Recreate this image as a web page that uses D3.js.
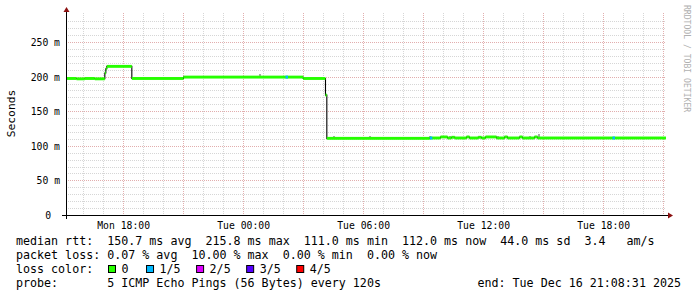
<!DOCTYPE html>
<html><head><meta charset="utf-8">
<script src="https://cdn.jsdelivr.net/npm/d3@7"></script>
<style>
body{margin:0;background:#fff}
svg{display:block}
text{font-family:"DejaVu Sans Mono",monospace;white-space:pre}
</style>
</head><body>
<svg id="c" width="697" height="297"></svg>
<script>
// ---------------- data ----------------
const chartStart = "2025-12-15 15:08:31";
const chartEnd   = "2025-12-16 21:08:31";

// median rtt (ms), step changes
const medianTimes = [
  "2025-12-15 15:08:31","2025-12-15 15:40:00","2025-12-15 16:05:00","2025-12-15 16:35:00",
  "2025-12-15 17:05:00","2025-12-15 17:08:00","2025-12-15 17:11:00",
  "2025-12-15 18:26:00","2025-12-15 21:01:00",
  "2025-12-16 03:00:00","2025-12-16 04:07:00","2025-12-16 04:11:00",
  "2025-12-16 09:20:00","2025-12-16 09:52:00","2025-12-16 10:13:00","2025-12-16 10:25:00",
  "2025-12-16 10:35:00","2025-12-16 11:10:00","2025-12-16 11:19:00","2025-12-16 11:45:00",
  "2025-12-16 11:55:00","2025-12-16 12:07:00","2025-12-16 12:40:00","2025-12-16 13:04:00",
  "2025-12-16 13:13:00","2025-12-16 13:49:00","2025-12-16 13:58:00","2025-12-16 14:34:00",
  "2025-12-16 14:43:00"
];
const medianValues = [
  198, 197.5, 198, 197.5,
  206, 212, 215.5,
  198, 200,
  198, 174, 111.5,
  112, 113.5, 112, 113,
  112, 113.5, 112, 113,
  112, 113.5, 112, 113.5,
  112, 113.5, 112, 113.5,
  112
];

// loss events (count of lost pings out of 5)
const lossTimes  = ["2025-12-16 02:07:00","2025-12-16 09:20:00","2025-12-16 18:28:00"];
const lossCounts = [1, 1, 1];

// smoke (max ping) marks above the median
const smokeTimes = [
  "2025-12-16 00:52:00","2025-12-16 02:25:00","2025-12-16 04:34:00","2025-12-16 06:20:00",
  "2025-12-16 06:36:00","2025-12-16 09:21:00","2025-12-16 10:01:00","2025-12-16 10:22:00",
  "2025-12-16 12:46:00","2025-12-16 13:13:00","2025-12-16 14:22:00","2025-12-16 14:49:00",
  "2025-12-16 15:34:00","2025-12-16 18:40:00"
];
const smokeMax = [204.5, 202, 115, 115, 114, 115, 115, 114.5, 115, 114.5, 114.5, 118, 114, 114];

const yTickValues = [0, 50, 100, 150, 200, 250];
const yTickLabels = ["0", "50 m", "100 m", "150 m", "200 m", "250 m"];
const xTickTimes  = ["2025-12-15 18:00:00","2025-12-16 00:00:00","2025-12-16 06:00:00","2025-12-16 12:00:00","2025-12-16 18:00:00"];
const xTickLabels = ["Mon 18:00","Tue 00:00","Tue 06:00","Tue 12:00","Tue 18:00"];

const lossLabels = ["0", "1/5", "2/5", "3/5", "4/5"];
const lossColors = ["#26ff00", "#00b8ff", "#dd00ff", "#5500ff", "#ff0000"];

const legendRtt   = "median rtt:  150.7 ms avg  215.8 ms max  111.0 ms min  112.0 ms now  44.0 ms sd  3.4   am/s";
const legendLoss  = "packet loss: 0.07 % avg  10.00 % max  0.00 % min  0.00 % now";
const legendColor = "loss color:";
const legendProbe = "probe:       5 ICMP Echo Pings (56 Bytes) every 120s";
const legendEnd   = "end: Tue Dec 16 21:08:31 2025";
const yTitle = "Seconds";
const watermark = "RRDTOOL / TOBI OETIKER";

// ---------------- drawing ----------------
const parse = d3.timeParse("%Y-%m-%d %H:%M:%S");
const t0 = parse(chartStart), t1 = parse(chartEnd);
const x = d3.scaleTime().domain([t0, t1]).range([66, 666]);
const y = d3.scaleLinear().domain([0, 289]).range([215.5, 15.5]);
const svg = d3.select("#c");
const crisp = v => Math.round(v) + 0.5;

const g = svg.append("g").attr("shape-rendering", "crispEdges");
const minorCol = "#d6d6d6", majorCol = "#e2aeae";

// horizontal grid
const hMinor = d3.range(10, 290, 10).filter(v => v % 50 !== 0);
g.selectAll(".hmin").data(hMinor).join("line")
  .attr("x1", 66).attr("x2", 666)
  .attr("y1", d => crisp(y(d) - 0.5)).attr("y2", d => crisp(y(d) - 0.5))
  .attr("stroke", minorCol).attr("stroke-dasharray", "1,1");
// vertical grid
const hours = d3.timeHour.range(d3.timeHour.ceil(t0), t1);
g.selectAll(".vmin").data(hours.filter(h => h.getHours() % 3 !== 0)).join("line")
  .attr("x1", d => crisp(x(d) - 0.5)).attr("x2", d => crisp(x(d) - 0.5))
  .attr("y1", 13).attr("y2", 215)
  .attr("stroke", minorCol).attr("stroke-dasharray", "1,1");
g.selectAll(".vmaj").data(hours.filter(h => h.getHours() % 3 === 0)).join("line")
  .attr("x1", d => crisp(x(d) - 0.5)).attr("x2", d => crisp(x(d) - 0.5))
  .attr("y1", 13).attr("y2", 215)
  .attr("stroke", majorCol).attr("stroke-dasharray", "1,1");
g.selectAll(".hmaj").data(yTickValues.filter(v => v > 0)).join("line")
  .attr("x1", 66).attr("x2", 666)
  .attr("y1", d => crisp(y(d) - 0.5)).attr("y2", d => crisp(y(d) - 0.5))
  .attr("stroke", majorCol).attr("stroke-dasharray", "1,1");

// data
const med = medianTimes.map((t, i) => ({t: parse(t), v: medianValues[i]}));
med.push({t: t1, v: medianValues[medianValues.length - 1]});

// smoke
g.selectAll(".smoke").data(smokeTimes.map((t, i) => ({t: parse(t), v: smokeMax[i]}))).join("rect")
  .attr("x", d => Math.round(x(d.t)) - 1).attr("width", 2)
  .attr("y", d => Math.round(y(d.v)))
  .attr("height", d => {
    const base = med.filter(m => m.t <= d.t).pop().v;
    return Math.max(1, Math.round(y(base)) - Math.round(y(d.v)));
  })
  .attr("fill", "#a8a8a8");

// median line (black, step)
svg.append("path").datum(med)
  .attr("d", d3.line().x(d => x(d.t)).y(d => y(d.v)).curve(d3.curveStepAfter))
  .attr("fill", "none").attr("stroke", "#000").attr("stroke-width", 1.1);

// colored band (loss 0)
svg.selectAll(".band").data(med.slice(0, -1).map((d, i) => ({t: d.t, t2: med[i + 1].t, v: d.v}))).join("rect")
  .attr("x", d => x(d.t)).attr("width", d => Math.max(0.5, x(d.t2) - x(d.t)))
  .attr("y", d => y(d.v) - 1.45).attr("height", 2.9)
  .attr("fill", lossColors[0]);

// loss colored segments
svg.selectAll(".loss").data(lossTimes.map((t, i) => ({t: parse(t), c: lossCounts[i]}))).join("rect")
  .attr("x", d => x(d.t)).attr("width", 2.5)
  .attr("y", d => y(med.filter(m => m.t <= d.t).pop().v) - 1.45).attr("height", 2.9)
  .attr("fill", d => lossColors[d.c]);

// axes
svg.append("line").attr("x1", 62).attr("x2", 668).attr("y1", 215.5).attr("y2", 215.5).attr("stroke", "#000");
svg.append("line").attr("x1", 66.5).attr("x2", 66.5).attr("y1", 219).attr("y2", 11).attr("stroke", "#000");
svg.append("path").attr("d", "M668,212.5 L673,215.5 L668,218.5 Z").attr("fill", "#8b1010");
svg.append("path").attr("d", "M63.5,12 L66.5,7 L69.5,12 Z").attr("fill", "#8b1010");

// y tick labels
svg.selectAll(".yl").data(yTickValues).join("text")
  .attr("x", (d, i) => yTickLabels[i].indexOf(" ") < 0 ? 51 : 60)
  .attr("y", d => y(d) + 3.5)
  .attr("text-anchor", "end").attr("font-size", 9.75).attr("fill", "#000")
  .text((d, i) => yTickLabels[i]);

// x tick labels
svg.selectAll(".xl").data(xTickTimes).join("text")
  .attr("x", d => x(parse(d)) + 0.5).attr("y", 228.5)
  .attr("text-anchor", "middle").attr("font-size", 9.75).attr("fill", "#000")
  .text((d, i) => xTickLabels[i]);

// y title
svg.append("text").attr("transform", "translate(15,113.5) rotate(-90)")
  .attr("text-anchor", "middle").attr("font-size", 11.3).text(yTitle);

// watermark
svg.append("text").attr("transform", "translate(684,5) rotate(90)")
  .attr("font-size", 8.1).attr("fill", "#b0b0b0").text(watermark);

// legend
const LF = 11.66;
svg.append("text").attr("x", 16).attr("y", 245.2).attr("font-size", LF).text(legendRtt);
svg.append("text").attr("x", 16).attr("y", 259.2).attr("font-size", LF).text(legendLoss);
svg.append("text").attr("x", 16).attr("y", 273.3).attr("font-size", LF).text(legendColor);
svg.append("text").attr("x", 16).attr("y", 287.3).attr("font-size", LF).text(legendProbe);
svg.append("text").attr("x", 681).attr("y", 287.3).attr("text-anchor", "end").attr("font-size", LF).text(legendEnd);

let bx = 108;
lossLabels.forEach((lab, i) => {
  svg.append("rect").attr("x", bx + 0.5).attr("y", 265.5).attr("width", 7).attr("height", 7)
    .attr("fill", lossColors[i]).attr("stroke", "#000").attr("stroke-width", 1);
  const tx = svg.append("text").attr("x", bx + 13.5).attr("y", 273.3).attr("font-size", LF).text(lab);
  const w = tx.node().getComputedTextLength();
  bx = bx + 13.5 + w + (i === 0 ? 17.5 : 15.5);
});
</script>
</body></html>
